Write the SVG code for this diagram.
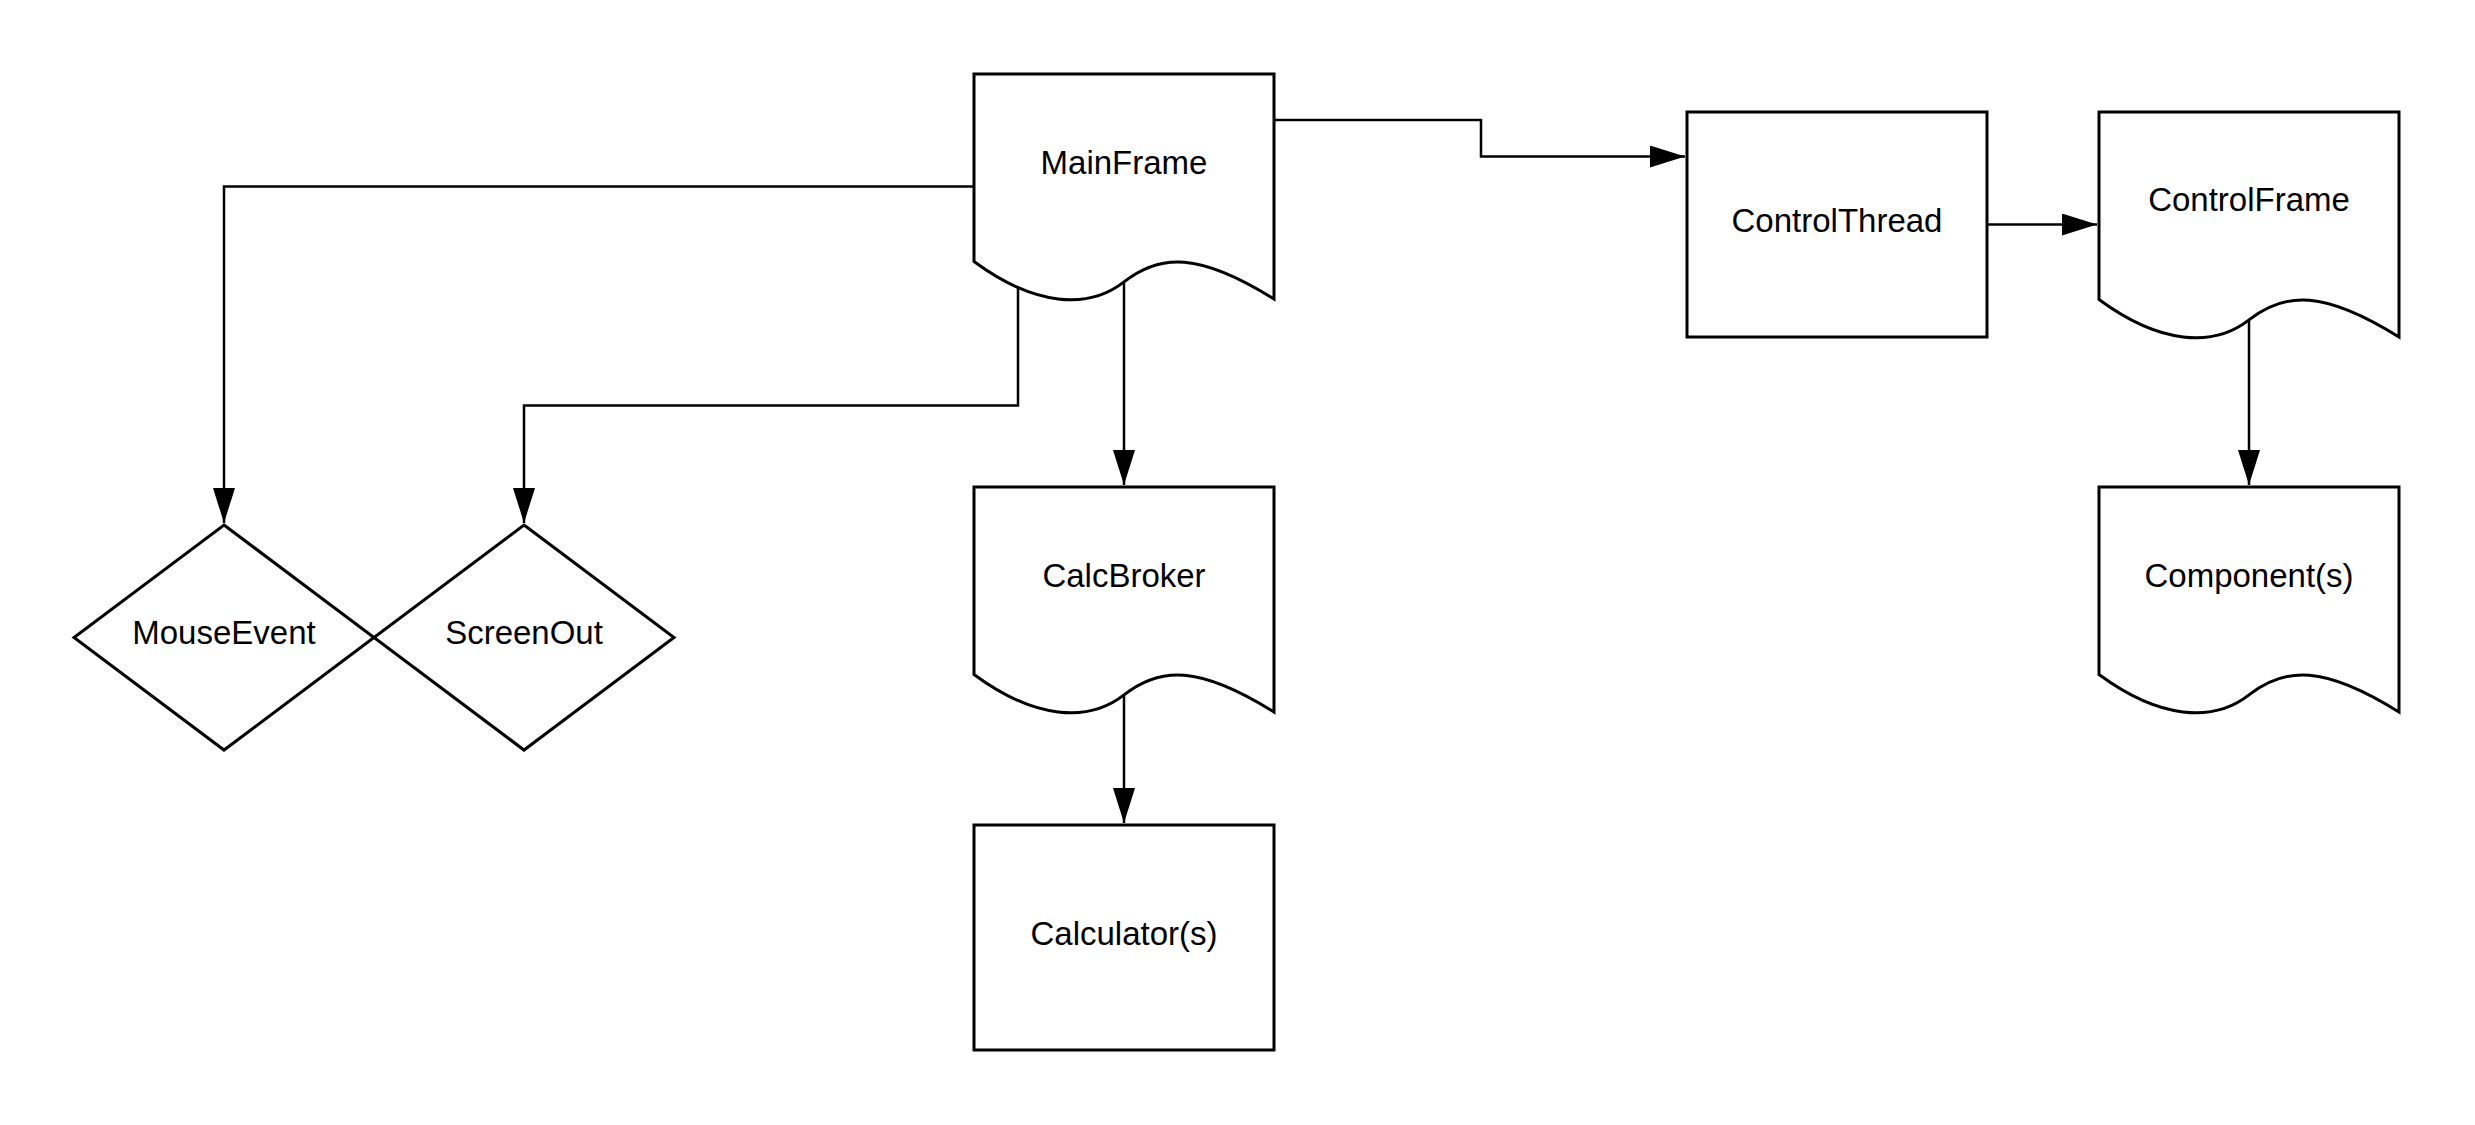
<svg xmlns="http://www.w3.org/2000/svg" xmlns:xlink="http://www.w3.org/1999/xlink" width="2475" height="1125" viewBox="0 0 2475 1125">
  <style>
    .node { fill: #ffffff; stroke: #000000; stroke-width: 3; stroke-linejoin: miter; }
    .edge { fill: none; stroke: #000000; stroke-width: 2.5; marker-end: url(#arrow); }
    .label { font-family: "Liberation Sans", Arial, sans-serif; font-size: 33px; fill: #000000; text-anchor: middle; }
  </style>
  <defs>
    <marker id="arrow" markerUnits="userSpaceOnUse" markerWidth="36" markerHeight="24" refX="35" refY="11" orient="auto">
      <path d="M0,0 L35,11 L0,22 Z" fill="#000000"/>
    </marker>
    <path id="doc" d="M0,0 H300 V225 C225,178 186,179.55 150,207.9 C114,236.25 60,231.75 0,187.5 Z"/>
  </defs>
  <rect width="2475" height="1125" fill="#ffffff"/>

  <g id="connectors">
    <path class="edge" d="M974,186.5 H224 V523"/>
    <path class="edge" d="M1018,287.5 V405.5 H524 V523"/>
    <path class="edge" d="M1124,282 V485"/>
    <path class="edge" d="M1274,120 H1481 V156.5 H1685"/>
    <path class="edge" d="M1987,224.5 H2097"/>
    <path class="edge" d="M2249,320 V485"/>
    <path class="edge" d="M1124,695 V823"/>
  </g>

  <g id="MainFrame">
    <use xlink:href="#doc" x="974" y="74" class="node"/>
    <text class="label" x="1124" y="174">MainFrame</text>
  </g>
  <g id="ControlThread">
    <rect class="node" x="1687" y="112" width="300" height="225"/>
    <text class="label" x="1837" y="232">ControlThread</text>
  </g>
  <g id="ControlFrame">
    <use xlink:href="#doc" x="2099" y="112" class="node"/>
    <text class="label" x="2249" y="211">ControlFrame</text>
  </g>
  <g id="Components">
    <use xlink:href="#doc" x="2099" y="487" class="node"/>
    <text class="label" x="2249" y="587">Component(s)</text>
  </g>
  <g id="CalcBroker">
    <use xlink:href="#doc" x="974" y="487" class="node"/>
    <text class="label" x="1124" y="587">CalcBroker</text>
  </g>
  <g id="Calculators">
    <rect class="node" x="974" y="825" width="300" height="225"/>
    <text class="label" x="1124" y="945">Calculator(s)</text>
  </g>
  <g id="MouseEvent">
    <path class="node" d="M224,525 L374,637.5 L224,750 L74,637.5 Z"/>
    <text class="label" x="224" y="644">MouseEvent</text>
  </g>
  <g id="ScreenOut">
    <path class="node" d="M524,525 L674,637.5 L524,750 L374,637.5 Z"/>
    <text class="label" x="524" y="644">ScreenOut</text>
  </g>
</svg>
